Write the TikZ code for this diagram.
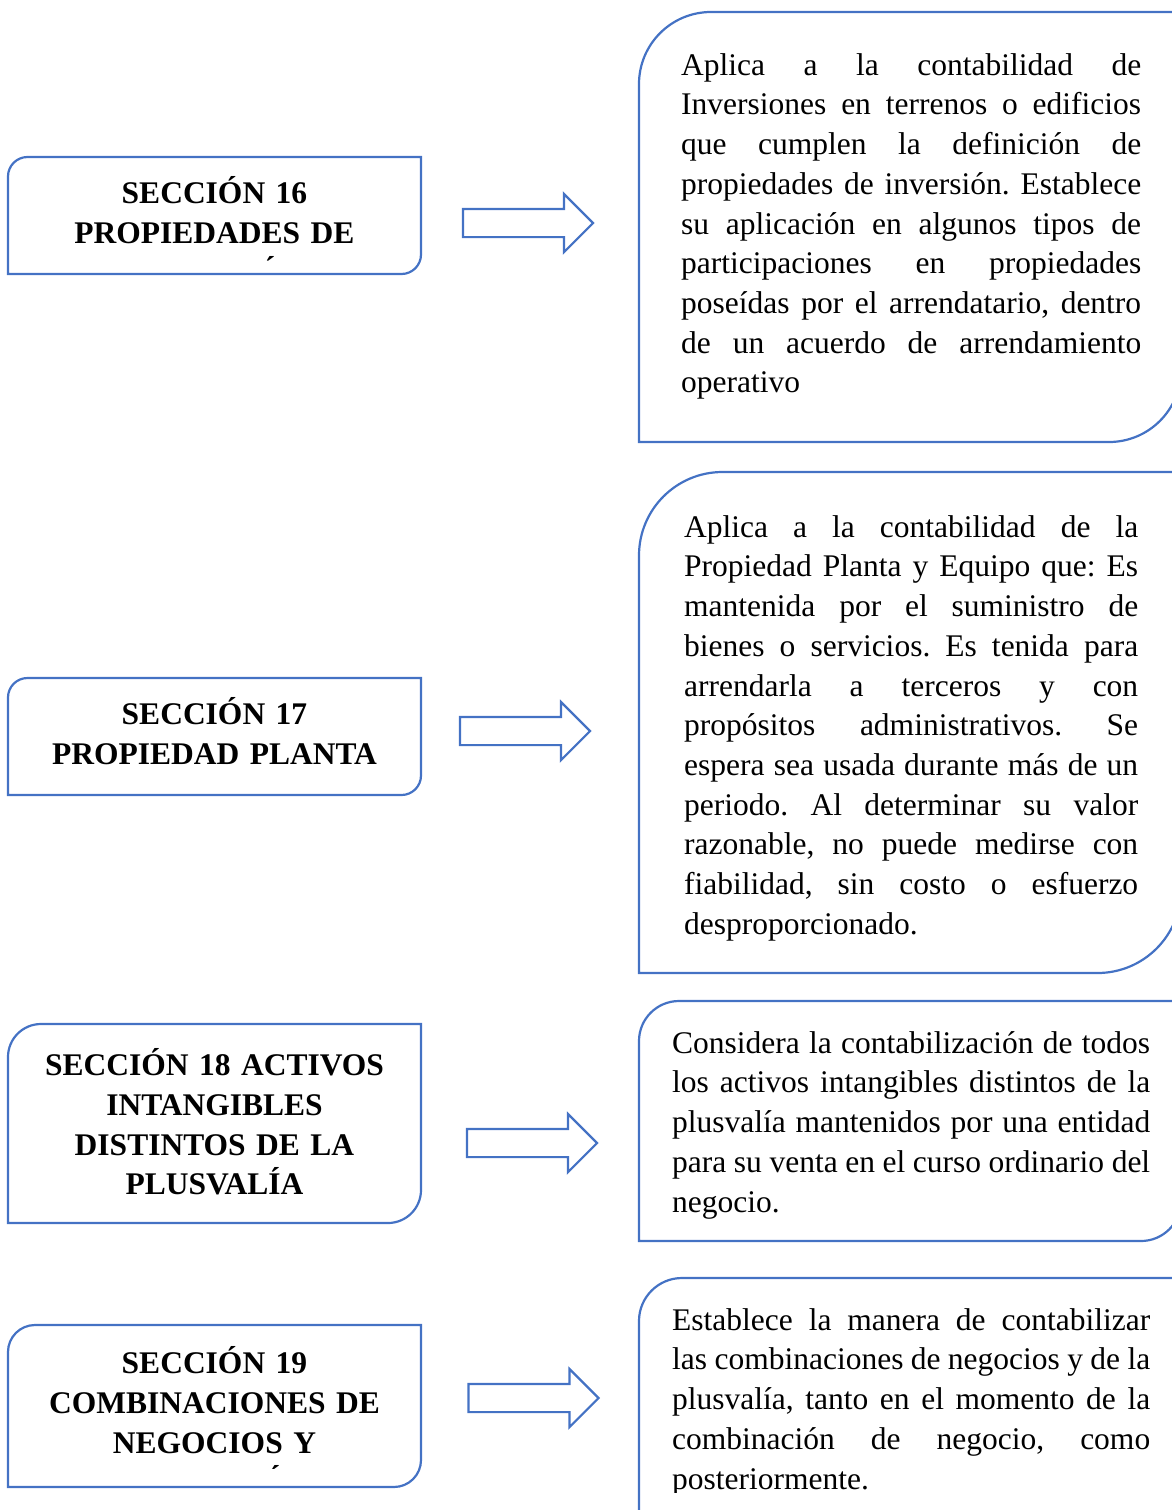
\documentclass[tikz,border=0pt]{standalone}
\usepackage{fontspec}
\setmainfont{Liberation Serif}
\usepackage{xcolor}
\usetikzlibrary{shapes.arrows}
\frenchspacing

\definecolor{frameblue}{HTML}{4472C4}
\newcommand\topstrut{\rule{0pt}{30pt}}
% border with round top-left and bottom-right corners
\newcommand\diagframe[2]{%
  \draw[frameline] (#1.south west) -- ([yshift=-#2]#1.north west)
    arc[start angle=180, end angle=90, radius=#2]
    -- (#1.north east) -- ([yshift=#2]#1.south east)
    arc[start angle=0, end angle=-90, radius=#2] -- cycle;}

\begin{document}
\begin{tikzpicture}[x=1pt, y=1pt,
    boxarea/.style={rectangle, inner sep=0pt, outer sep=0pt},
    frameline/.style={draw=frameblue, line width=2.2pt},
    sectxt/.style={anchor=north, inner sep=0pt, text width=405pt, align=center,
      font=\fontsize{31.5pt}{39.7pt}\selectfont\bfseries},
    desctxt/.style={anchor=north west, inner sep=0pt, align=justify,
      font=\fontsize{31.5pt}{39.7pt}\selectfont},
    blockarr/.style={single arrow, draw=frameblue, line width=2.2pt, inner xsep=0pt,
      inner ysep=13pt, minimum height=130pt, minimum width=56pt, single arrow head extend=15pt}
  ]
    \useasboundingbox (0,0) rectangle (1172,-1510);
    \clip (0,0) rectangle (1172,-1510);

    % Section boxes (left)
    \node[boxarea, minimum width=413pt, minimum height=117pt] (s16) at (214.5,-215.5) {};
    \node[boxarea, minimum width=413pt, minimum height=117pt] (s17) at (214.5,-736.5) {};
    \node[boxarea, minimum width=413pt, minimum height=199pt] (s18) at (214.5,-1123.5) {};
    \node[boxarea, minimum width=413pt, minimum height=162pt] (s19) at (214.5,-1406) {};
    \diagframe{s16}{19.5pt}
    \diagframe{s17}{19.5pt}
    \diagframe{s18}{33pt}
    \diagframe{s19}{27pt}

    \begin{scope}
      \clip (s16.north west) rectangle ([yshift=14pt]s16.south east);
      \node[sectxt] (t16) at (214.5,-173.5) {\topstrut SECCIÓN 16\\PROPIEDADES DE\\INVERSIÓN};
    \end{scope}
    \begin{scope}
      \clip (s17.north west) rectangle ([yshift=14pt]s17.south east);
      \node[sectxt] (t17) at (214.5,-694.5) {\topstrut SECCIÓN 17\\PROPIEDAD PLANTA\\Y EQUIPO};
    \end{scope}
    \node[sectxt] (t18) at (214.5,-1045.5) {\topstrut SECCIÓN 18 ACTIVOS\\INTANGIBLES\\DISTINTOS DE LA\\PLUSVALÍA};
    \begin{scope}
      \clip (s19.north west) rectangle ([yshift=19pt]s19.south east);
      \node[sectxt] (t19) at (214.5,-1343.5) {\topstrut SECCIÓN 19\\COMBINACIONES DE\\NEGOCIOS Y\\PLUSVALÍA};
    \end{scope}

    % Description boxes (right)
    \node[boxarea, minimum width=542pt, minimum height=430pt] (d16) at (910,-227) {};
    \node[boxarea, minimum width=542pt, minimum height=501pt] (d17) at (910,-722.5) {};
    \node[boxarea, minimum width=542pt, minimum height=240pt] (d18) at (910,-1121) {};
    \node[boxarea, minimum width=542pt, minimum height=260pt] (d19) at (910,-1408) {};
    \diagframe{d16}{72pt}
    \diagframe{d17}{83.5pt}
    \diagframe{d18}{40pt}
    \diagframe{d19}{43pt}

    \node[desctxt, text width=460pt] (x16) at (681,-45) {\topstrut Aplica a la contabilidad de\linebreak
      Inversiones en terrenos o edificios\linebreak que cumplen la definición de\linebreak
      propiedades de inversión. Establece\linebreak su aplicación en algunos tipos de\linebreak
      participaciones en propiedades\linebreak poseídas por el arrendatario, dentro\linebreak
      de un acuerdo de arrendamiento\linebreak operativo};
    \node[desctxt, text width=454pt] (x17) at (684,-507) {\topstrut Aplica a la contabilidad de la\linebreak
      Propiedad Planta y Equipo que: Es\linebreak mantenida por el suministro de\linebreak
      bienes o servicios. Es tenida para\linebreak arrendarla a terceros y con\linebreak
      propósitos administrativos. Se\linebreak espera sea usada durante más de un\linebreak
      periodo. Al determinar su valor\linebreak razonable, no puede medirse con\linebreak
      fiabilidad, sin costo o esfuerzo\linebreak desproporcionado.};
    \node[desctxt, text width=478pt] (x18) at (672,-1023) {\topstrut Considera la contabilización de todos\linebreak
      los activos intangibles distintos de la\linebreak plusvalía mantenidos por una entidad\linebreak
      para su venta en el curso ordinario del\linebreak negocio.};
    \begin{scope}
      \clip (d19.north west) rectangle (1172,-1492);
      \node[desctxt, text width=478pt] (x19) at (672,-1300) {\topstrut Establece la manera de contabilizar\linebreak
        las combinaciones de negocios y de la\linebreak plusvalía, tanto en el momento de la\linebreak
        combinación de negocio, como\linebreak posteriormente.};
    \end{scope}

    % Block arrows
    \node[blockarr] (a16) at (521,-223) {};
    \node[blockarr] (a17) at (518,-731) {};
    \node[blockarr] (a18) at (525,-1143) {};
    \node[blockarr] (a19) at (526.5,-1398) {};

\end{tikzpicture}
\end{document}
